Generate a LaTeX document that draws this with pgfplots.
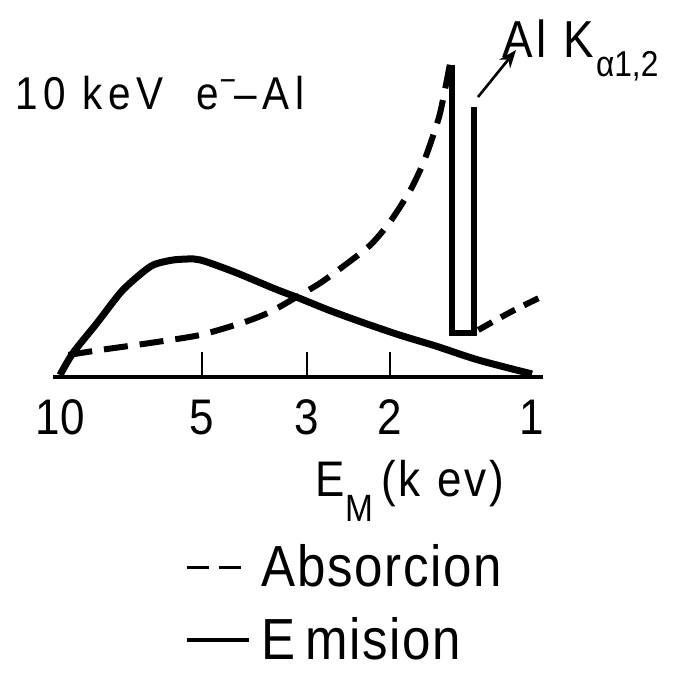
\documentclass[border=0pt]{standalone}
\usepackage{fontspec}
\setmainfont{Liberation Sans}[FakeStretch=0.88]
\usepackage{pgfplots}
\usepackage{pgfplotstable}
\pgfplotsset{compat=1.18}
\usetikzlibrary{arrows.meta}

% Absorption curve (dashed), up to the K edge
\pgfplotstableread{
E     y
9.60  22
8.23  27
6.45  34
5.05  42
4.06  55
3.59  65
3.18  79
2.81  94
2.49  112
2.20  132
2.00  155
1.81  187
1.69  217
1.57  262
1.49  315
}\absorcion

% Absorption beyond the edge
\pgfplotstableread{
E     y
1.30  47
1.11  65
0.957 80
}\absorciontail

% Emission spectrum (solid)
\pgfplotstableread{
E     y
10.0  2
9.39  24
8.35  54
7.46  84
6.87  100
6.35  112
5.76  117
5.20  118
4.88  115
4.22  104
3.50  88
3.12  79
2.70  67
2.30  55
1.91  42
1.60  31
1.30  17
1.00  3
}\emision

% Al K alpha line
\pgfplotstableread{
E     y
1.475 312
1.475 44
1.327 44
1.327 270
}\kalpha

\begin{document}
\begin{tikzpicture}
\path[use as bounding box] (0pt,0pt) rectangle (339.5pt,337.5pt);
\begin{axis}[
  at={(26.3pt,149pt)}, anchor=south west,
  scale only axis, width=245.2pt, height=168.5pt,
  xmode=log, x dir=reverse,
  xmin=0.948, xmax=10.37, ymin=0, ymax=337,
  axis y line=none, axis x line=bottom,
  x axis line style={-, line width=2.3pt},
  clip=false,
  xtick={5,3,2}, xticklabels={5,3,2},
  extra x ticks={10,1}, extra x tick labels={10,1},
  extra x tick style={major tick length=0pt},
  xminorticks=false,
  tick align=inside, major tick length=12.5pt,
  tick style={line width=0.7pt, black},
  xticklabel style={font=\fontsize{25}{30}\selectfont, yshift=-8pt},
  xlabel={E\raisebox{-0.5em}{\fontsize{19}{22}\selectfont M}\,(k\,\,ev)},
  xlabel style={at={(axis description cs:0.522,-0.356)}, anchor=base west,
    font=\fontsize{25}{30}\selectfont\addfontfeature{LetterSpace=6}},
  legend style={at={(axis description cs:0.27,-0.484)}, anchor=north west,
    draw=none, fill=none, font=\fontsize{29}{34}\selectfont\addfontfeature{LetterSpace=3},
    row sep=10pt, inner sep=0pt},
  legend cell align=left,
]
\addplot[line width=3pt, dash pattern=on 12pt off 6pt, smooth, tension=0.4,
  legend image code/.code={\draw[line width=1.5pt, dash pattern=on 11pt off 5pt] (0pt,0pt) -- (27pt,0pt);}]
  table[x=E, y=y] {\absorcion};
\addlegendentry{\hspace{3pt}Absorcion}
\addplot[line width=3.5pt, line join=round, smooth, tension=0.45,
  legend image code/.code={\draw[line width=2pt] (0pt,0pt) -- (31pt,0pt);}]
  table[x=E, y=y] {\emision};
\addlegendentry{\hspace{3pt}E\,mision}
\addplot[line width=3pt, line join=miter, forget plot] table[x=E, y=y] {\kalpha};
\addplot[line width=3pt, dash pattern=on 8pt off 5pt, smooth, forget plot]
  table[x=E, y=y] {\absorciontail};
\end{axis}
\begin{scope}[x=0.5pt, y=0.5pt]
\node[anchor=base west, inner sep=0pt, font=\fontsize{23}{27}\selectfont\addfontfeature{LetterSpace=12}]
  at (15,565) {10 keV\ \ e\textsuperscript{−}\kern-0.05em–Al};
\node[anchor=base west, inner sep=0pt, font=\fontsize{26}{28}\selectfont\addfontfeature{LetterSpace=6}]
  at (502,617) {Al\,\,K\kern1pt\raisebox{-0.35em}{\fontsize{18}{20}\selectfont\addfontfeature{LetterSpace=0}α1,2}};
\draw[-{Stealth[length=9pt,width=7pt]}, line width=1.3pt] (478,578) -- (516,625);
\end{scope}
\end{tikzpicture}
\end{document}
